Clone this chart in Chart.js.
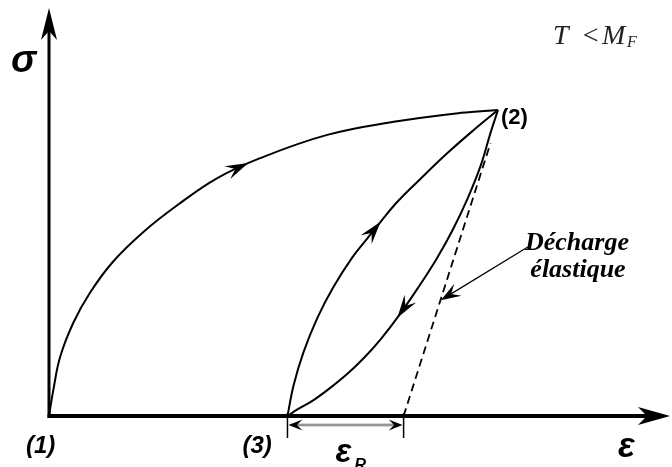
<!DOCTYPE html>
<html><head><meta charset="utf-8">
<script src="https://cdn.jsdelivr.net/npm/chart.js@4"></script>
<style>html,body{margin:0;padding:0;background:#fff}#wrap{width:672px;height:467px}</style>
</head><body><div id="wrap"><canvas id="c" width="672" height="467"></canvas></div>
<script>
// ---- Data (strain ε on x, stress σ on y, schematic units) ----
const axisMaxX = 10;
const axisMaxY = 10;
// (1) -> (2) loading
const loadX = [0, 0.07, 0.18, 0.39, 0.66, 1.03, 1.52, 2.07, 2.71, 3.40, 4.48, 5.55, 6.63, 7.23];
const loadY = [0, 0.64, 1.45, 2.28, 3.02, 3.78, 4.51, 5.17, 5.83, 6.32, 6.89, 7.21, 7.43, 7.50];
// (3) -> (2) reloading
const reloadX = [3.84, 3.94, 4.10, 4.32, 4.58, 4.89, 5.13, 5.34, 5.61, 5.98, 6.42, 6.84, 7.23];
const reloadY = [0, 0.76, 1.57, 2.40, 3.16, 3.90, 4.36, 4.76, 5.25, 5.81, 6.45, 7.01, 7.50];
// (2) -> (3) unloading
const unloadX = [3.84, 4.00, 4.26, 4.53, 4.81, 5.07, 5.34, 5.61, 5.95, 6.24, 6.50, 6.74, 6.95, 7.11, 7.23];
const unloadY = [0, 0.16, 0.39, 0.69, 1.04, 1.42, 1.88, 2.41, 3.16, 3.85, 4.56, 5.33, 6.13, 6.94, 7.50];
// elastic discharge (dashed)
const elasticX = [5.71, 7.11];
const elasticY = [0, 6.69];
// residual strain εR between these strains
const residualStrain = [3.84, 5.71];
// flow-direction arrows: [tailX, tailY, tipX, tipY]
const flowArrows = [[2.89, 5.98, 3.21, 6.20], [5.15, 4.40, 5.34, 4.76], [5.74, 2.70, 5.61, 2.41]];
// annotation arrow "Décharge élastique": [tailX, tailY, tipX, tipY]
const noteArrow = [7.71, 4.14, 6.31, 2.84];
const pointLabels = ['(1)', '(2)', '(3)'];
const pointLabelX = [0, 7.23, 3.84];
const pointLabelY = [0, 7.50, 0];
const noteLines = ['Décharge', 'élastique'];

const xy = (xs, ys) => xs.map((v, i) => ({x: v, y: ys[i]}));

function arrowHead(ctx, tx, ty, fx, fy, len, hw, notch) {
  const a = Math.atan2(ty - fy, tx - fx);
  ctx.save();
  ctx.translate(tx, ty); ctx.rotate(a);
  ctx.beginPath();
  ctx.moveTo(0, 0);
  ctx.lineTo(-len, -hw);
  ctx.lineTo(-len * notch, 0);
  ctx.lineTo(-len, hw);
  ctx.closePath();
  ctx.fillStyle = '#000';
  ctx.fill();
  ctx.restore();
}

const drawPlugin = {
  id: 'schema',
  afterDatasetsDraw(chart) {
    const ctx = chart.ctx;
    const xs = chart.scales.x, ys = chart.scales.y;
    const X = v => xs.getPixelForValue(v), Y = v => ys.getPixelForValue(v);
    const x0 = X(0), y0 = Y(0);
    ctx.save();
    ctx.strokeStyle = '#000';
    ctx.lineCap = 'butt';
    // y axis
    const yTop = Y(axisMaxY);
    ctx.lineWidth = 3;
    ctx.beginPath(); ctx.moveTo(x0, y0 + 2); ctx.lineTo(x0, yTop + 20); ctx.stroke();
    arrowHead(ctx, x0, yTop, x0, y0, 32, 8, 0.72);
    // x axis
    const xEnd = X(axisMaxX);
    ctx.lineWidth = 4;
    ctx.beginPath(); ctx.moveTo(x0 - 1.5, y0); ctx.lineTo(xEnd - 20, y0); ctx.stroke();
    arrowHead(ctx, xEnd, y0, x0, y0, 32, 9, 0.72);
    // flow arrows
    flowArrows.forEach(a => arrowHead(ctx, X(a[2]), Y(a[3]), X(a[0]), Y(a[1]), 23, 7, 0.62));
    // annotation arrow
    ctx.lineWidth = 1.2;
    const nx1 = X(noteArrow[0]), ny1 = Y(noteArrow[1]), nx2 = X(noteArrow[2]), ny2 = Y(noteArrow[3]);
    ctx.beginPath(); ctx.moveTo(nx1, ny1); ctx.lineTo(nx2 + (nx1 - nx2) * 0.08, ny2 + (ny1 - ny2) * 0.08); ctx.stroke();
    arrowHead(ctx, nx2, ny2, nx1, ny1, 20, 7, 0.6);
    // residual strain dimension
    const r1 = X(residualStrain[0]), r2 = X(residualStrain[1]);
    ctx.lineWidth = 1.5;
    [r1, r2].forEach(r => { ctx.beginPath(); ctx.moveTo(r, y0 - 3); ctx.lineTo(r, y0 + 22); ctx.stroke(); });
    ctx.strokeStyle = '#666'; ctx.lineWidth = 2.5;
    const dy = y0 + 9;
    ctx.beginPath(); ctx.moveTo(r1 + 8, dy); ctx.lineTo(r2 - 8, dy); ctx.stroke();
    ctx.strokeStyle = '#ddd'; ctx.lineWidth = 0.8;
    ctx.beginPath(); ctx.moveTo(r1 + 10, dy); ctx.lineTo(r2 - 10, dy); ctx.stroke();
    arrowHead(ctx, r1 + 1, dy, r2, dy, 14, 5.5, 0.6);
    arrowHead(ctx, r2 - 1, dy, r1, dy, 14, 5.5, 0.6);

    // texts
    ctx.fillStyle = '#000';
    ctx.textBaseline = 'alphabetic';
    ctx.textAlign = 'left';
    ctx.font = 'bold italic 38px "Liberation Sans"';
    ctx.fillText('σ', x0 - 38, 72);
    ctx.font = 'bold italic 35px "Liberation Sans"';
    ctx.fillText('ε', 618, 457);
    ctx.font = 'bold italic 33px "Liberation Sans"';
    ctx.fillText('ε', r1 + 48, 462);
    ctx.font = 'bold italic 16px "Liberation Sans"';
    ctx.fillText('R', r1 + 67, 470);
    // point labels
    ctx.font = 'bold italic 24px "Liberation Sans"';
    ctx.fillText(pointLabels[0], X(pointLabelX[0]) - 23, y0 + 37);
    ctx.fillText(pointLabels[2], X(pointLabelX[2]) - 45, y0 + 37);
    ctx.font = 'bold 22px "Liberation Sans"';
    ctx.fillText(pointLabels[1], X(pointLabelX[1]) + 3, Y(pointLabelY[1]) + 14);
    // note
    ctx.font = 'bold italic 26px "Liberation Serif"';
    ctx.textAlign = 'center';
    ctx.fillText(noteLines[0], 577, 250);
    ctx.fillText(noteLines[1], 578, 277);
    // T < M_F
    ctx.textAlign = 'left';
    ctx.fillStyle = '#222';
    ctx.font = 'italic 28px "Liberation Serif"';
    ctx.fillText('T', 553, 44);
    ctx.fillText('<', 581, 44);
    ctx.fillText('M', 602, 44);
    ctx.font = 'italic 16px "Liberation Serif"';
    ctx.fillText('F', 627, 47);
    ctx.restore();
  }
};

const lineDs = (data, extra) => Object.assign({
  data, showLine: true, pointRadius: 0, borderColor: '#000', borderWidth: 2,
  tension: 0.4, clip: false, fill: false
}, extra || {});

new Chart(document.getElementById('c'), {
  type: 'scatter',
  data: {
    datasets: [
      lineDs(xy(loadX, loadY)),
      lineDs(xy(reloadX, reloadY)),
      lineDs(xy(unloadX, unloadY)),
      lineDs(xy(elasticX, elasticY), {borderDash: [8, 5], borderWidth: 1.8, tension: 0})
    ]
  },
  options: {
    responsive: false,
    animation: false,
    layout: {padding: {left: 49, right: 2, top: 8, bottom: 51}},
    plugins: {legend: {display: false}, tooltip: {enabled: false}},
    scales: {
      x: {type: 'linear', min: 0, max: axisMaxX, display: false},
      y: {type: 'linear', min: 0, max: axisMaxY, display: false}
    }
  },
  plugins: [drawPlugin]
});
</script>
</body></html>
